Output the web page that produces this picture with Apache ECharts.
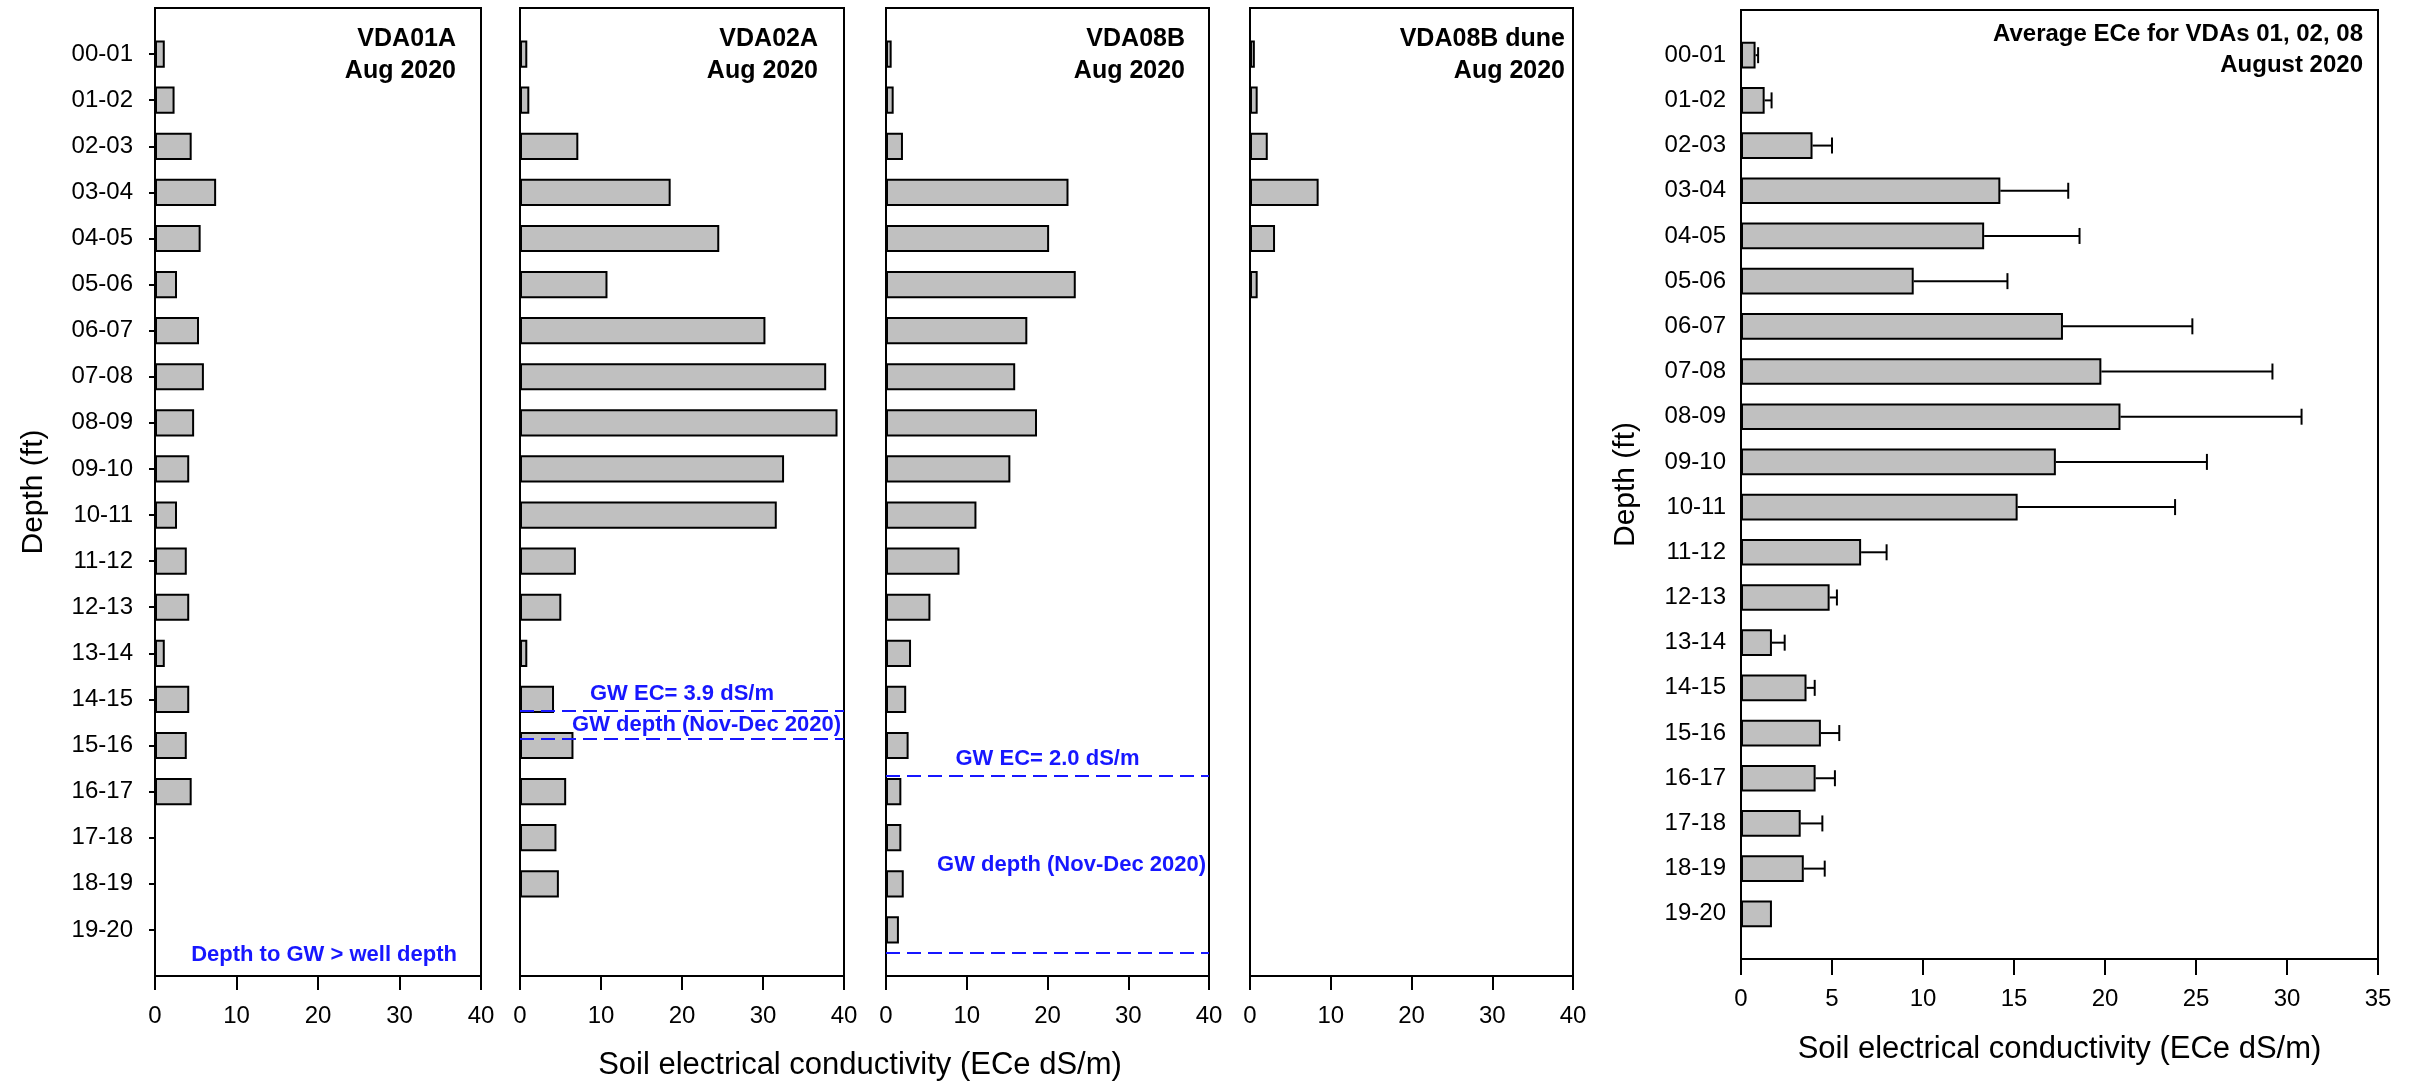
<!DOCTYPE html>
<html>
<head>
<meta charset="utf-8">
<script src="https://cdn.jsdelivr.net/npm/echarts@6/dist/echarts.min.js"></script>
<style>
  html, body { margin: 0; padding: 0; background: #fff; }
  #chart { width: 2412px; height: 1082px; }
</style>
</head>
<body>
<div id="chart"></div>
<script>
// Depth intervals (ft)
const depthLabels = ['00-01', '01-02', '02-03', '03-04', '04-05', '05-06', '06-07', '07-08', '08-09', '09-10',
                     '10-11', '11-12', '12-13', '13-14', '14-15', '15-16', '16-17', '17-18', '18-19', '19-20'];

// Soil ECe (dS/m) per well, Aug 2020
const vda01a     = [1.2, 2.4, 4.5, 7.5, 5.6, 2.7, 5.4, 6.0, 4.8, 4.2, 2.7, 3.9, 4.2, 1.2, 4.2, 3.9, 4.5, null, null, null];
const vda02a     = [0.9, 1.15, 7.2, 18.6, 24.6, 10.8, 30.3, 37.8, 39.2, 32.6, 31.7, 6.9, 5.1, 0.9, 4.2, 6.6, 5.7, 4.5, 4.8, null];
const vda08b     = [0.7, 0.95, 2.1, 22.6, 20.2, 23.5, 17.5, 16.0, 18.7, 15.4, 11.2, 9.1, 5.5, 3.1, 2.5, 2.8, 1.9, 1.9, 2.2, 1.6];
const vda08bDune = [0.6, 0.95, 2.2, 8.5, 3.1, 0.95, null, null, null, null, null, null, null, null, null, null, null, null, null, null];

// Average ECe and its error (dS/m)
const avgEce    = [0.8, 1.3, 3.93, 14.25, 13.36, 9.49, 17.69, 19.8, 20.85, 17.3, 15.2, 6.6, 4.87, 1.7, 3.6, 4.39, 4.1, 3.28, 3.45, 1.7];
const avgEceErr = [0.14, 0.38, 1.07, 3.73, 5.24, 5.15, 7.11, 9.4, 9.95, 8.3, 8.65, 1.4, 0.4, 0.7, 0.45, 1.01, 1.06, 1.19, 1.15, null];

// Groundwater depth band (ft) observed Nov-Dec 2020
const gwDepthVDA02 = [14.74, 15.36];
const gwDepthVDA08 = [16.16, 20.0];

// Axis ticks
const ecTicksWells = [0, 40, 10];   // min, max, interval
const ecTicksAvg   = [0, 35, 5];

const FONT = "'Liberation Sans', Arial, Helvetica, sans-serif";
const BLUE = '#1717ff';
const BAR_FILL = '#c0c0c0';

// Layout of the plotting frames (px)
const TOP_W = 8, BOTTOM_W = 976;
const TOP_A = 10, BOTTOM_A = 959;
const panels = [
  { title: 'VDA01A',      sub: 'Aug 2020', values: vda01a,     left: 155,  right: 481,  inset: 25, labels: true },
  { title: 'VDA02A',      sub: 'Aug 2020', values: vda02a,     left: 520,  right: 844,  inset: 26 },
  { title: 'VDA08B',      sub: 'Aug 2020', values: vda08b,     left: 886,  right: 1209, inset: 24 },
  { title: 'VDA08B dune', sub: 'Aug 2020', values: vda08bDune, left: 1250, right: 1573, inset: 8 }
];
const avgPanel = { left: 1741, right: 2378 };

// Category axis is padded with an empty slot above and below
const categories = [''].concat(depthLabels, [' ']);
const pad = arr => [null].concat(arr, [null]);

const grid = [], xAxis = [], yAxis = [], series = [], graphic = [];

const axisLineStyle = { onZero: false, lineStyle: { color: '#000', width: 2 } };

panels.forEach((p, i) => {
  grid.push({ left: p.left, top: TOP_W, width: p.right - p.left, height: BOTTOM_W - TOP_W,
              show: true, borderColor: '#000', borderWidth: 2, backgroundColor: 'transparent' });
  xAxis.push({
    gridIndex: i, type: 'value', position: 'bottom',
    min: ecTicksWells[0], max: ecTicksWells[1], interval: ecTicksWells[2],
    axisLine: axisLineStyle, splitLine: { show: false },
    axisTick: { show: true, length: 14, lineStyle: { color: '#000', width: 2 } },
    axisLabel: { color: '#000', fontFamily: FONT, fontSize: 24, margin: 28 }
  });
  yAxis.push({
    gridIndex: i, type: 'category', data: categories, inverse: true, boundaryGap: false, position: 'left',
    axisLine: axisLineStyle,
    axisTick: { show: !!p.labels, length: 6, interval: (idx, val) => val.trim() !== '',
                lineStyle: { color: '#000', width: 2 } },
    axisLabel: { show: !!p.labels, interval: 0, color: '#000', fontFamily: FONT, fontSize: 24, margin: 22 },
    splitLine: { show: false },
    name: p.labels ? 'Depth (ft)' : '', nameLocation: 'middle', nameRotate: 90, nameGap: 106,
    nameTextStyle: { color: '#000', fontFamily: FONT, fontSize: 30 }
  });
  // depth (ft) axis sharing the same frame, used for groundwater marks
  yAxis.push({ gridIndex: i, type: 'value', min: -0.5, max: 20.5, inverse: true, show: false,
               axisLine: { show: false, onZero: false } });

  series.push({
    type: 'bar', xAxisIndex: i, yAxisIndex: 2 * i, data: pad(p.values), barWidth: '59%',
    itemStyle: { color: BAR_FILL, borderColor: '#000', borderWidth: 2 }, silent: true
  });

  graphic.push(
    { type: 'text', x: p.right - p.inset, y: 39,
      style: { text: p.title, font: 'bold 25px ' + FONT, fill: '#000', align: 'right', verticalAlign: 'middle',
               textAlign: 'right', textVerticalAlign: 'middle' } },
    { type: 'text', x: p.right - p.inset, y: 71,
      style: { text: p.sub, font: 'bold 25px ' + FONT, fill: '#000', align: 'right', verticalAlign: 'middle',
               textAlign: 'right', textVerticalAlign: 'middle' } }
  );
});

// Groundwater band: dashed bounds, EC note above the upper bound, label centred in the band
function gwSeries(panelIdx, band, ecText) {
  return {
    type: 'line', xAxisIndex: panelIdx, yAxisIndex: 2 * panelIdx + 1, data: [], silent: true,
    markLine: {
      symbol: 'none', silent: true, animation: false,
      lineStyle: { color: BLUE, width: 2, type: [14, 7] },
      data: [
        { yAxis: band[0], label: { show: true, position: 'insideMiddleTop', distance: 6, formatter: ecText,
                                   color: BLUE, fontFamily: FONT, fontSize: 22, fontWeight: 'bold' } },
        { yAxis: band[1], label: { show: false } }
      ]
    },
    markArea: {
      silent: true, animation: false,
      itemStyle: { color: 'rgba(0,0,0,0)' },
      label: { show: true, position: 'insideRight', distance: 3, color: BLUE, fontFamily: FONT,
               fontSize: 22, fontWeight: 'bold' },
      data: [[{ yAxis: band[0], name: 'GW depth (Nov-Dec 2020)' }, { yAxis: band[1] }]]
    }
  };
}
series.push(gwSeries(1, gwDepthVDA02, 'GW EC= 3.9 dS/m'));
series.push(gwSeries(2, gwDepthVDA08, 'GW EC= 2.0 dS/m'));

// Note in the VDA01A frame
graphic.push({ type: 'text', x: panels[0].right - 24, y: 955,
  style: { text: 'Depth to GW > well depth', font: 'bold 22px ' + FONT, fill: BLUE,
           align: 'right', verticalAlign: 'middle', textAlign: 'right', textVerticalAlign: 'middle' } });

// Shared axis title under the four well frames
graphic.push({ type: 'text', x: 860, y: 1065,
  style: { text: 'Soil electrical conductivity (ECe dS/m)', font: '31px ' + FONT, fill: '#000',
           align: 'center', verticalAlign: 'middle', textAlign: 'center', textVerticalAlign: 'middle' } });

// Average panel
const ai = panels.length;
grid.push({ left: avgPanel.left, top: TOP_A, width: avgPanel.right - avgPanel.left, height: BOTTOM_A - TOP_A,
            show: true, borderColor: '#000', borderWidth: 2, backgroundColor: 'transparent' });
xAxis.push({
  gridIndex: ai, type: 'value', position: 'bottom',
  min: ecTicksAvg[0], max: ecTicksAvg[1], interval: ecTicksAvg[2],
  axisLine: axisLineStyle, splitLine: { show: false },
  axisTick: { show: true, length: 16, lineStyle: { color: '#000', width: 2 } },
  axisLabel: { color: '#000', fontFamily: FONT, fontSize: 24, margin: 28 },
  name: 'Soil electrical conductivity (ECe dS/m)', nameLocation: 'middle', nameGap: 75,
  nameTextStyle: { color: '#000', fontFamily: FONT, fontSize: 31 }
});
yAxis.push({
  gridIndex: ai, type: 'category', data: categories, inverse: true, boundaryGap: false, position: 'left',
  axisLine: axisLineStyle, axisTick: { show: false }, splitLine: { show: false },
  axisLabel: { interval: 0, color: '#000', fontFamily: FONT, fontSize: 24, margin: 15 },
  name: 'Depth (ft)', nameLocation: 'middle', nameRotate: 90, nameGap: 100,
  nameTextStyle: { color: '#000', fontFamily: FONT, fontSize: 30 }
});
series.push({
  type: 'bar', xAxisIndex: ai, yAxisIndex: 2 * ai, data: pad(avgEce), barWidth: '59%',
  itemStyle: { color: BAR_FILL, borderColor: '#000', borderWidth: 2 }, silent: true
});
// One-sided error bars with caps
const errData = [];
avgEce.forEach((m, i) => { if (avgEceErr[i] != null) errData.push([m, i + 1, m + avgEceErr[i]]); });
series.push({
  type: 'custom', xAxisIndex: ai, yAxisIndex: 2 * ai, data: errData, silent: true, z: 5,
  encode: { x: [0, 2], y: 1 },
  renderItem: function (params, api) {
    const a = api.coord([api.value(0), api.value(1)]);
    const b = api.coord([api.value(2), api.value(1)]);
    const cap = 8;
    return { type: 'group', children: [
      { type: 'line', shape: { x1: a[0], y1: a[1], x2: b[0], y2: b[1] }, style: { stroke: '#000', lineWidth: 2 } },
      { type: 'line', shape: { x1: b[0], y1: b[1] - cap, x2: b[0], y2: b[1] + cap }, style: { stroke: '#000', lineWidth: 2 } }
    ] };
  }
});
graphic.push(
  { type: 'text', x: avgPanel.right - 15, y: 34,
    style: { text: 'Average ECe for VDAs 01, 02, 08', font: 'bold 24px ' + FONT, fill: '#000',
             align: 'right', verticalAlign: 'middle', textAlign: 'right', textVerticalAlign: 'middle' } },
  { type: 'text', x: avgPanel.right - 15, y: 65,
    style: { text: 'August 2020', font: 'bold 24px ' + FONT, fill: '#000',
             align: 'right', verticalAlign: 'middle', textAlign: 'right', textVerticalAlign: 'middle' } }
);

const chart = echarts.init(document.getElementById('chart'), null, { renderer: 'canvas' });
chart.setOption({
  animation: false,
  backgroundColor: '#fff',
  textStyle: { fontFamily: FONT },
  grid, xAxis, yAxis, series, graphic
});
</script>
</body>
</html>
